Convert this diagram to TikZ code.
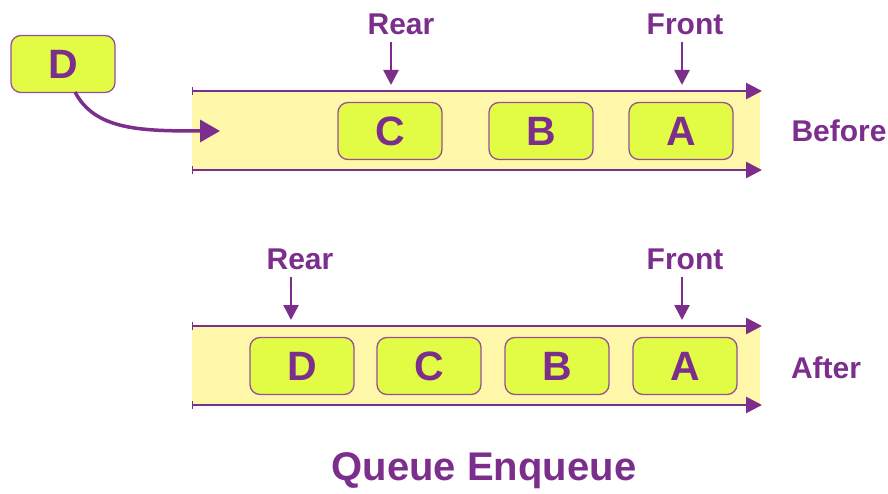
\documentclass[tikz,border=0pt]{standalone}
\usepackage{fontspec}
\setmainfont{Liberation Sans}
\usetikzlibrary{arrows.meta}
\definecolor{qpurple}{RGB}{124,46,140}
\definecolor{qband}{RGB}{255,247,170}
\definecolor{qbox}{RGB}{226,252,70}
\definecolor{qboxline}{RGB}{150,80,150}
\tikzset{
  qitem/.style={draw=qboxline, line width=1.3pt, fill=qbox, rounded corners=10pt, minimum width=104pt, minimum height=57pt, text=qpurple, font=\fontsize{41}{41}\selectfont\bfseries, inner sep=0pt},
  qlabel/.style={text=qpurple, font=\fontsize{30}{30}\selectfont\bfseries, inner sep=0pt},
  qrail/.style={qpurple, line width=2.8pt, {Bar[width=8pt,line width=1.2pt]}-{Triangle[length=16pt,width=16pt]}},
  qpoint/.style={qpurple, line width=2.6pt, -{Triangle[length=15pt,width=15pt]}},
}
\begin{document}
\begin{tikzpicture}[x=1pt,y=-1pt]
\useasboundingbox (0,0) rectangle (888,494);
% top band
\fill[qband] (192,91) rectangle (760,170);
\coordinate (t1l) at (192,91); \coordinate (t1r) at (762,91);
\coordinate (t2l) at (192,170); \coordinate (t2r) at (762,170);
\draw[qrail] (t1l) -- (t1r);
\draw[qrail] (t2l) -- (t2r);
\node[qitem] (C1) at (390,131) {C};
\node[qitem] (B1) at (541,131) {B};
\node[qitem] (A1) at (681,131) {A};
\node[qitem] (D0) at (63,64) {D};
\coordinate (dtip) at (220,131);
\draw[qpurple, line width=3.5pt, -{Triangle[length=20pt,width=22pt]}] (75,92) .. controls (95,130) and (140,131) .. (dtip);
\node[qlabel] (rear1) at (401,24) {Rear};
\node[qlabel] (front1) at (685,24) {Front};
\coordinate (r1e) at (391,85); \coordinate (f1e) at (682,85);
\draw[qpoint] (391,42) -- (r1e);
\draw[qpoint] (682,42) -- (f1e);
\node[qlabel] (before) at (839,131) {Before};
% bottom band
\fill[qband] (192,326) rectangle (760,405);
\coordinate (b1l) at (192,326); \coordinate (b1r) at (762,326);
\coordinate (b2l) at (192,405); \coordinate (b2r) at (762,405);
\draw[qrail] (b1l) -- (b1r);
\draw[qrail] (b2l) -- (b2r);
\node[qitem] (D2) at (302,366) {D};
\node[qitem] (C2) at (429,366) {C};
\node[qitem] (B2) at (557,366) {B};
\node[qitem] (A2) at (685,366) {A};
\node[qlabel] (rear2) at (300,259) {Rear};
\node[qlabel] (front2) at (685,259) {Front};
\coordinate (r2e) at (291,320); \coordinate (f2e) at (682,320);
\draw[qpoint] (291,277) -- (r2e);
\draw[qpoint] (682,277) -- (f2e);
\node[qlabel] (after) at (826,368) {After};
\node[text=qpurple, font=\fontsize{40}{40}\selectfont\bfseries, inner sep=0pt] (title) at (484,471) {Queue Enqueue};
\end{tikzpicture}
\end{document}
